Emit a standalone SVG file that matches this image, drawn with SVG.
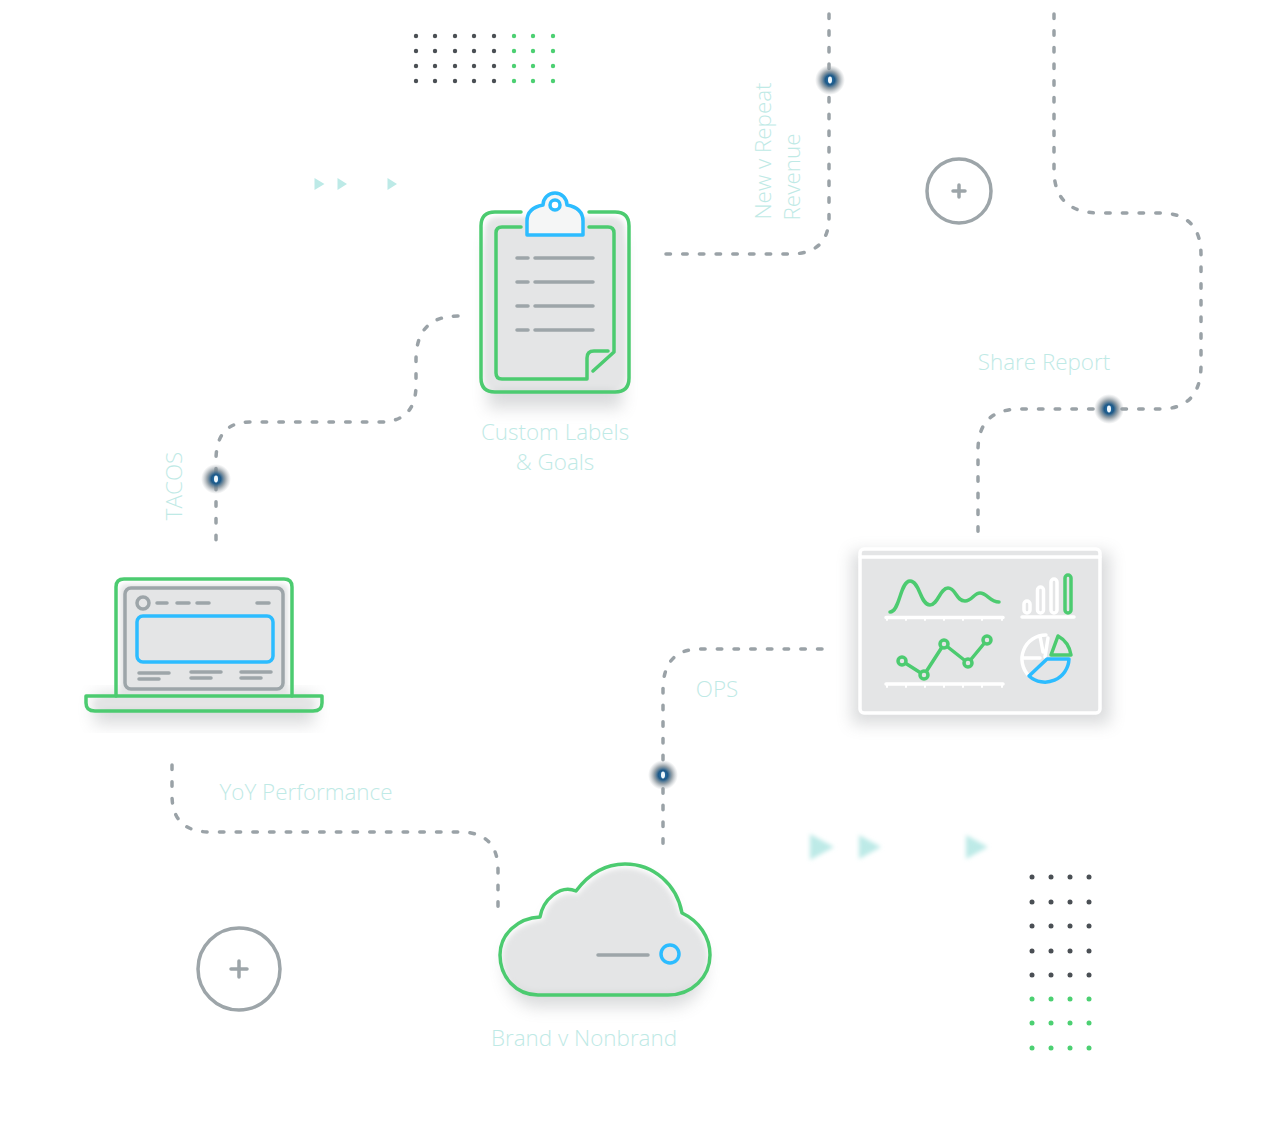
<svg xmlns="http://www.w3.org/2000/svg" width="1280" height="1128" viewBox="0 0 1280 1128">
<style>
.g{fill:none;stroke:#4ccb70;stroke-width:3.500;stroke-linecap:round;stroke-linejoin:round}
.b{fill:none;stroke:#2cbcff;stroke-width:3.500;stroke-linecap:round;stroke-linejoin:round}
.y{fill:none;stroke:#9da5a9;stroke-width:3.500;stroke-linecap:round;stroke-linejoin:round}
.w{fill:none;stroke:#fff;stroke-width:3.500;stroke-linecap:round;stroke-linejoin:round}
.f{fill:#e4e5e6}
.o{fill:#e4e5e6;filter:url(#soft)}
.c{fill:none;stroke:#9aa2a7;stroke-width:3.500;stroke-linecap:round;stroke-dasharray:4.500 12.200}
.t{font-family:"Open Sans",sans-serif;font-weight:300;font-size:22.400px;fill:#bfeae6}
.s{fill:#85898d;opacity:.3;filter:url(#sh)}
.d{fill:#4a4f54}.e{fill:#4cd072}
.a{fill:#bdeae7}
</style>
<defs>
<filter id="sh" x="-20%" y="-30%" width="140%" height="160%"><feGaussianBlur stdDeviation="8"/></filter>
<filter id="soft" x="-10%" y="-10%" width="120%" height="120%"><feGaussianBlur stdDeviation="2.500"/></filter>
<filter id="bl" x="-50%" y="-50%" width="200%" height="200%"><feGaussianBlur stdDeviation="2"/></filter>
<filter id="bs" x="-50%" y="-50%" width="200%" height="200%"><feGaussianBlur stdDeviation=".4"/></filter>
<filter id="ib" x="-100%" y="-100%" width="300%" height="300%"><feGaussianBlur stdDeviation=".7"/></filter>
<radialGradient id="bd"><stop offset="0" stop-color="#2274b5"/><stop offset=".32" stop-color="#1f5a88"/><stop offset=".6" stop-color="#76858f" stop-opacity=".75"/><stop offset="1" stop-color="#a8adb2" stop-opacity="0"/></radialGradient>
<g id="badge"><circle r="15" fill="url(#bd)"/><ellipse rx="2" ry="3.400" fill="#eef7fc" filter="url(#ib)"/></g>
</defs>

<g id="connectors">
<path class="c" style="stroke-dashoffset:-4" d="M829 10V215Q830 254 790 254H665"/>
<path class="c" d="M1054 14V170Q1054 213 1100 213H1160Q1201 213 1201 255V365Q1201 409 1160 409H1020Q978 409 978 450V533"/>
<path class="c" d="M458 316Q416 316 416 360V385Q416 422 380 422H250Q216 422 216 460V540"/>
<path class="c" style="stroke-dashoffset:-10" d="M172 755V795Q172 832 210 832H460Q498 832 498 870V908"/>
<path class="c" style="stroke-dashoffset:-6" d="M828 649H700Q663 649 663 690V845"/>
</g>

<g id="badges">
<use href="#badge" x="830" y="80"/>
<use href="#badge" x="1109" y="409"/>
<use href="#badge" x="216" y="479"/>
<use href="#badge" x="663" y="775"/>
</g>

<g id="dots-top">
<g class="d"><circle cx="416" cy="36" r="2.200"/><circle cx="435" cy="36" r="2.200"/><circle cx="455" cy="36" r="2.200"/><circle cx="474" cy="36" r="2.200"/><circle cx="494" cy="36" r="2.200"/><circle cx="416" cy="51" r="2.200"/><circle cx="435" cy="51" r="2.200"/><circle cx="455" cy="51" r="2.200"/><circle cx="474" cy="51" r="2.200"/><circle cx="494" cy="51" r="2.200"/><circle cx="416" cy="66" r="2.200"/><circle cx="435" cy="66" r="2.200"/><circle cx="455" cy="66" r="2.200"/><circle cx="474" cy="66" r="2.200"/><circle cx="494" cy="66" r="2.200"/><circle cx="416" cy="81" r="2.200"/><circle cx="435" cy="81" r="2.200"/><circle cx="455" cy="81" r="2.200"/><circle cx="474" cy="81" r="2.200"/><circle cx="494" cy="81" r="2.200"/></g>
<g class="e"><circle cx="514" cy="36" r="2.200"/><circle cx="533" cy="36" r="2.200"/><circle cx="553" cy="36" r="2.200"/><circle cx="514" cy="51" r="2.200"/><circle cx="533" cy="51" r="2.200"/><circle cx="553" cy="51" r="2.200"/><circle cx="514" cy="66" r="2.200"/><circle cx="533" cy="66" r="2.200"/><circle cx="553" cy="66" r="2.200"/><circle cx="514" cy="81" r="2.200"/><circle cx="533" cy="81" r="2.200"/><circle cx="553" cy="81" r="2.200"/></g>
</g>

<g id="dots-bottom">
<g class="d"><circle cx="1032" cy="877" r="2.500"/><circle cx="1051" cy="877" r="2.500"/><circle cx="1070" cy="877" r="2.500"/><circle cx="1089" cy="877" r="2.500"/><circle cx="1032" cy="902" r="2.500"/><circle cx="1051" cy="902" r="2.500"/><circle cx="1070" cy="902" r="2.500"/><circle cx="1089" cy="902" r="2.500"/><circle cx="1032" cy="926" r="2.500"/><circle cx="1051" cy="926" r="2.500"/><circle cx="1070" cy="926" r="2.500"/><circle cx="1089" cy="926" r="2.500"/><circle cx="1032" cy="951" r="2.500"/><circle cx="1051" cy="951" r="2.500"/><circle cx="1070" cy="951" r="2.500"/><circle cx="1089" cy="951" r="2.500"/><circle cx="1032" cy="975" r="2.500"/><circle cx="1051" cy="975" r="2.500"/><circle cx="1070" cy="975" r="2.500"/><circle cx="1089" cy="975" r="2.500"/></g>
<g class="e"><circle cx="1032" cy="999" r="2.500"/><circle cx="1051" cy="999" r="2.500"/><circle cx="1070" cy="999" r="2.500"/><circle cx="1089" cy="999" r="2.500"/><circle cx="1032" cy="1023" r="2.500"/><circle cx="1051" cy="1023" r="2.500"/><circle cx="1070" cy="1023" r="2.500"/><circle cx="1089" cy="1023" r="2.500"/><circle cx="1032" cy="1048" r="2.500"/><circle cx="1051" cy="1048" r="2.500"/><circle cx="1070" cy="1048" r="2.500"/><circle cx="1089" cy="1048" r="2.500"/></g>
</g>

<g id="arrows-small" class="a" filter="url(#bs)">
<path d="M314.500 178V190L324.500 184Z"/><path d="M337.500 178V190L347 184Z"/><path d="M387.500 178V190L397 184Z"/>
</g>
<g id="arrows-large" class="a" filter="url(#bl)">
<path d="M810 834V860L834 847Z"/><path d="M859 835V859L881 847Z"/><path d="M966 835V859L988 847Z"/>
</g>

<g id="plus-top"><circle class="y" cx="959" cy="191" r="32"/><path class="y" d="M953 191H965M959 185V197"/></g>
<g id="plus-bottom"><circle class="y" cx="239" cy="969" r="41"/><path class="y" d="M231 969H247M239 961V977"/></g>

<g id="clipboard">
<rect class="s" x="488" y="240" width="134" height="168"/>
<rect class="o" x="485" y="217" width="140" height="171" rx="12"/>
<path class="g" d="M521 212H495Q481 212 481 226V378Q481 392 495 392H615Q629 392 629 378V226Q629 212 615 212H589"/>
<path class="g" d="M521 227H502Q496 227 496 233V373Q496 379 502 379H587V358Q587 351 594 351H608"/>
<path class="g" d="M589 227H608Q614 227 614 233V352L593 371"/>
<path d="M527 235V221Q527 208 543 205A12 12 0 0 1 567 205Q583 208 583 221V235Z" fill="#f5f6f6" stroke="#2cbcff" stroke-width="3.500" stroke-linejoin="round"/>
<circle cx="555" cy="205" r="5" fill="#fff" stroke="#2cbcff" stroke-width="3.500"/>
<path class="y" d="M517 258H528M535 258H593M517 282H528M535 282H593M517 306H528M535 306H593M517 330H528M535 330H593"/>
</g>

<g id="laptop">
<rect class="s" x="94" y="694" width="220" height="30"/>
<rect class="o" x="120" y="584" width="168" height="115" rx="6"/>
<path class="o" d="M96 700H312V704Q312 708 306 708H102Q96 708 96 704Z"/>
<path class="g" d="M116 696V587Q116 579 124 579H284Q292 579 292 587V696"/>
<path class="g" d="M86 696H322V703Q322 711 313 711H95Q86 711 86 703Z"/>
<rect class="y" x="125" y="588" width="158" height="101" rx="6"/>
<circle class="y" cx="143" cy="603" r="6"/>
<path class="y" d="M157 603H167M177 603H189M197 603H209M257 603H269M139 673H169M139 679H159M191 672H221M191 678H211M241 672H271M241 678H261"/>
<rect class="b" x="137" y="616" width="136" height="46" rx="6"/>
</g>

<g id="dashboard">
<rect class="s" x="852" y="552" width="258" height="172"/>
<rect class="f" x="860" y="549" width="240" height="164" rx="4"/>
<rect class="w" x="860" y="549" width="240" height="164" rx="4"/>
<path class="w" d="M860 557H1100M886 617.500H1003M886 684H1003M1022 617H1074"/>
<path class="w" d="M887 618v2M906 618v2M925 618v2M944 618v2M963 618v2M982 618v2M1002 618v2M887 685v2M906 685v2M925 685v2M944 685v2M963 685v2M982 685v2M1002 685v2" style="stroke-width:2"/>
<rect class="w" x="1024" y="601" width="6" height="12" rx="3"/>
<rect class="w" x="1037.500" y="587" width="6" height="26" rx="3"/>
<rect class="w" x="1051" y="579" width="6" height="34" rx="3"/>
<rect class="g" x="1065" y="575" width="6" height="38" rx="3"/>
<path class="g" d="M890 612C900 612 900 581 910 581C920 581 920 605 930 605C938 605 940 588 948 588C956 588 956 601 965 601C972 601 974 593 980 593C987 593 990 602 999 602"/>
<path class="g" d="M902 661L924 675L944 644L968 663L987 640"/>
<g fill="#e4e5e6" stroke="#4ccb70" stroke-width="3.500"><circle cx="902" cy="661" r="4"/><circle cx="924" cy="675" r="4"/><circle cx="944" cy="644" r="4"/><circle cx="968" cy="663" r="4"/><circle cx="987" cy="640" r="4"/></g>
<path class="w" d="M1029 676A24 24 0 0 1 1046 635M1022 658H1040M1040 636L1043 652M1048 638L1045 657"/>
<path class="g" d="M1051 655L1058 636Q1069 642 1071 655Z"/>
<path class="b" d="M1069 659A24 24 0 0 1 1029 676L1047 659Z"/>
</g>

<g id="cloud">
<path class="s" d="M538 1007C516 1007 505 985 505 965C505 944 523 930 545 929C548 912 565 896 581 903C593 887 605 876 625 876C654 876 672 897 677 925C694 933 705 949 705 967C705 989 692 1007 668 1007Z"/>
<path class="o" d="M538 991C518 991 504 975 504 955C504 937 522 922 544 921C547 904 562 889 578 896C590 880 606 869 625 869C651 869 673 888 678 916C695 924 706 939 706 955C706 975 690 991 668 991Z"/>
<path class="g" d="M538 995C516 995 500 977 500 955C500 934 518 918 540 917C543 900 560 884 576 891C588 875 605 864 625 864C654 864 677 885 682 913C699 921 710 937 710 955C710 977 692 995 668 995Z"/>
<path class="y" d="M598 955H648"/>
<circle class="b" cx="670" cy="954" r="9"/>
</g>

<g id="labels">
<text class="t" x="555" y="440" text-anchor="middle">Custom Labels</text>
<text class="t" x="555" y="470" text-anchor="middle">&amp; Goals</text>
<text class="t" x="1044" y="370" text-anchor="middle">Share Report</text>
<text class="t" x="306" y="800" text-anchor="middle">YoY Performance</text>
<text class="t" x="717" y="697" text-anchor="middle">OPS</text>
<text class="t" x="584" y="1046" text-anchor="middle">Brand v Nonbrand</text>
<text class="t" transform="translate(182 486) rotate(-90)" text-anchor="middle">TACOS</text>
<text class="t" transform="translate(771 151) rotate(-90)" text-anchor="middle">New v Repeat</text>
<text class="t" transform="translate(800 177) rotate(-90)" text-anchor="middle">Revenue</text>
</g>
</svg>
